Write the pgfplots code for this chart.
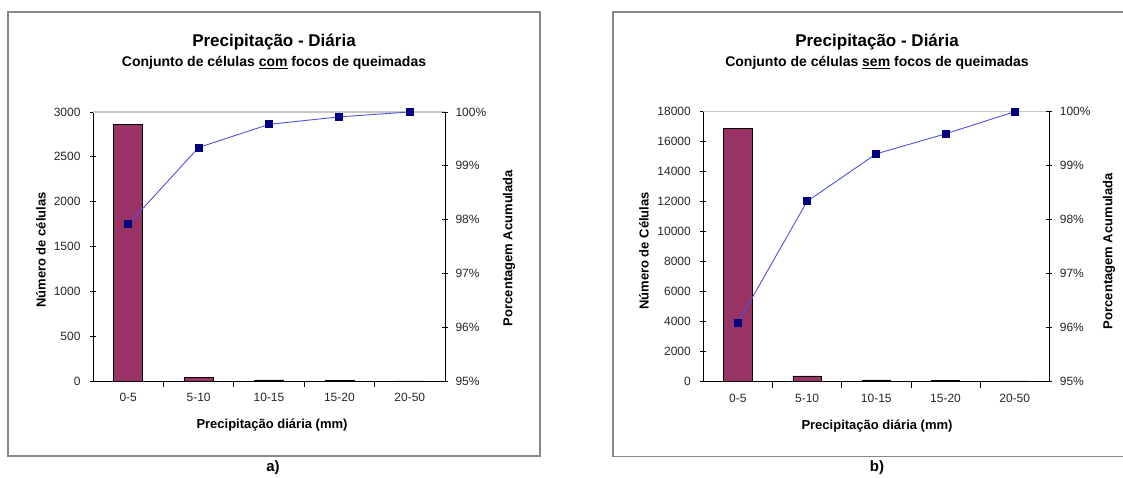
\documentclass[border=0pt]{standalone}
\usepackage{fontspec}
\setmainfont{Liberation Sans}
\usepackage{pgfplots}
\pgfplotsset{compat=1.18}

\definecolor{barplum}{RGB}{153,51,102}
\definecolor{cumline}{RGB}{80,80,225}
\definecolor{cummark}{RGB}{0,0,128}
\definecolor{framegray}{RGB}{135,135,135}
\definecolor{topgrid}{RGB}{200,200,200}

\pgfplotsset{
  pareto base/.style={
    scale only axis, anchor=south west,
    xmin=-0.5, xmax=4.5,
    /pgf/number format/assume math mode=true,
    tick style={black, line width=0.8pt},
    tick label style={font=\fontsize{12}{12}\selectfont, text=black!85},
    major tick length=6pt,
    tick align=center,
  },
  counts/.style={
    pareto base,
    axis x line*=bottom, axis y line*=left,
    axis line style={black, line width=0.9pt, -},
    ymin=0,
    scaled y ticks=false,
    xtick={0.5,1.5,2.5,3.5}, xticklabels={},
    extra x ticks={0,1,2,3,4},
    extra x tick labels={0-5,5-10,10-15,15-20,20-50},
    extra x tick style={major tick length=0pt,
      tick label style={yshift=-9pt}},
    ytick pos=left,
    yticklabel style={xshift=-6pt},
    /pgf/number format/.cd, 1000 sep={}, fixed, /pgfplots/.cd,
    ybar, bar width=0.41,
  },
  cumulative/.style={
    pareto base,
    axis x line=none, axis y line*=right,
    axis line style={black, line width=0.9pt, -},
    ymin=95, ymax=100, ytick={95,96,97,98,99,100},
    yticklabel={\pgfmathprintnumber{\tick}\%},
    yticklabel style={xshift=4pt},
  },
  barstyle/.style={fill=barplum, draw=black, line width=0.6pt},
  linestyle/.style={cumline, line width=0.9pt, mark=square*,
    mark size=3.5pt, mark options={fill=cummark, draw=cummark}},
}

\newcommand{\titlefont}{\bfseries\fontsize{17}{17}\selectfont}
\newcommand{\subfont}{\bfseries\fontsize{14}{14}\selectfont}
\newcommand{\labfont}{\bfseries\fontsize{13}{13}\selectfont}

\begin{document}
\begin{tikzpicture}
\useasboundingbox (0,0) rectangle (1123pt,478pt);

% panel frames
\draw[framegray, line width=1.6pt] (8pt,22pt) rectangle (540pt,466pt);
\draw[framegray, line width=1.6pt] (612.7pt,21.3pt) rectangle (1140pt,466pt);

% ---------- a) cells with fire foci ----------
\begin{axis}[counts, at={(93pt,97pt)}, width=352pt, height=269pt,
  ymax=3000, ytick={0,500,...,3000},
  extra y ticks={3000}, extra y tick labels={},
  extra y tick style={grid=major, major grid style={topgrid, line width=1.6pt},
    major tick length=0pt}]
  \addplot[barstyle] coordinates {(0,2860) (1,38) (2,12) (3,4) (4,2)};
\end{axis}
\begin{axis}[cumulative, at={(93pt,97pt)}, width=352pt, height=269pt]
  \addplot[linestyle] coordinates {(0,97.91) (1,99.34) (2,99.77) (3,99.91) (4,100)};
\end{axis}

\node[font=\titlefont] at (274pt,436pt) {Precipitação - Diária};
\node[font=\subfont] at (274pt,415pt) {Conjunto de células \underline{com} focos de queimadas};
\node[font=\labfont] at (272pt,53pt) {Precipitação diária (mm)};
\node[font=\labfont, rotate=90] at (41pt,228pt) {Número de células};
\node[font=\labfont, rotate=90] at (509pt,230pt) {Porcentagem Acumulada};
\node[font=\bfseries\fontsize{15}{15}\selectfont] at (273pt,10pt) {a)};

% ---------- b) cells without fire foci ----------
\begin{axis}[counts, at={(703.3pt,96.3pt)}, width=346pt, height=270pt,
  ymax=18000, ytick={0,2000,...,18000},
  extra y ticks={18000}, extra y tick labels={},
  extra y tick style={grid=major, major grid style={topgrid, line width=1.6pt},
    major tick length=0pt}]
  \addplot[barstyle] coordinates {(0,16900) (1,380) (2,120) (3,60) (4,50)};
\end{axis}
\begin{axis}[cumulative, at={(703.3pt,96.3pt)}, width=346pt, height=270pt]
  \addplot[linestyle] coordinates {(0,96.09) (1,98.34) (2,99.22) (3,99.59) (4,100)};
\end{axis}

\node[font=\titlefont] at (877pt,436pt) {Precipitação - Diária};
\node[font=\subfont] at (877pt,415pt) {Conjunto de células \underline{sem} focos de queimadas};
\node[font=\labfont] at (877pt,52pt) {Precipitação diária (mm)};
\node[font=\labfont, rotate=90] at (644pt,227pt) {Número de Células};
\node[font=\labfont, rotate=90] at (1109pt,227pt) {Porcentagem Acumulada};
\node[font=\bfseries\fontsize{15}{15}\selectfont] at (877pt,10pt) {b)};
\end{tikzpicture}
\end{document}
